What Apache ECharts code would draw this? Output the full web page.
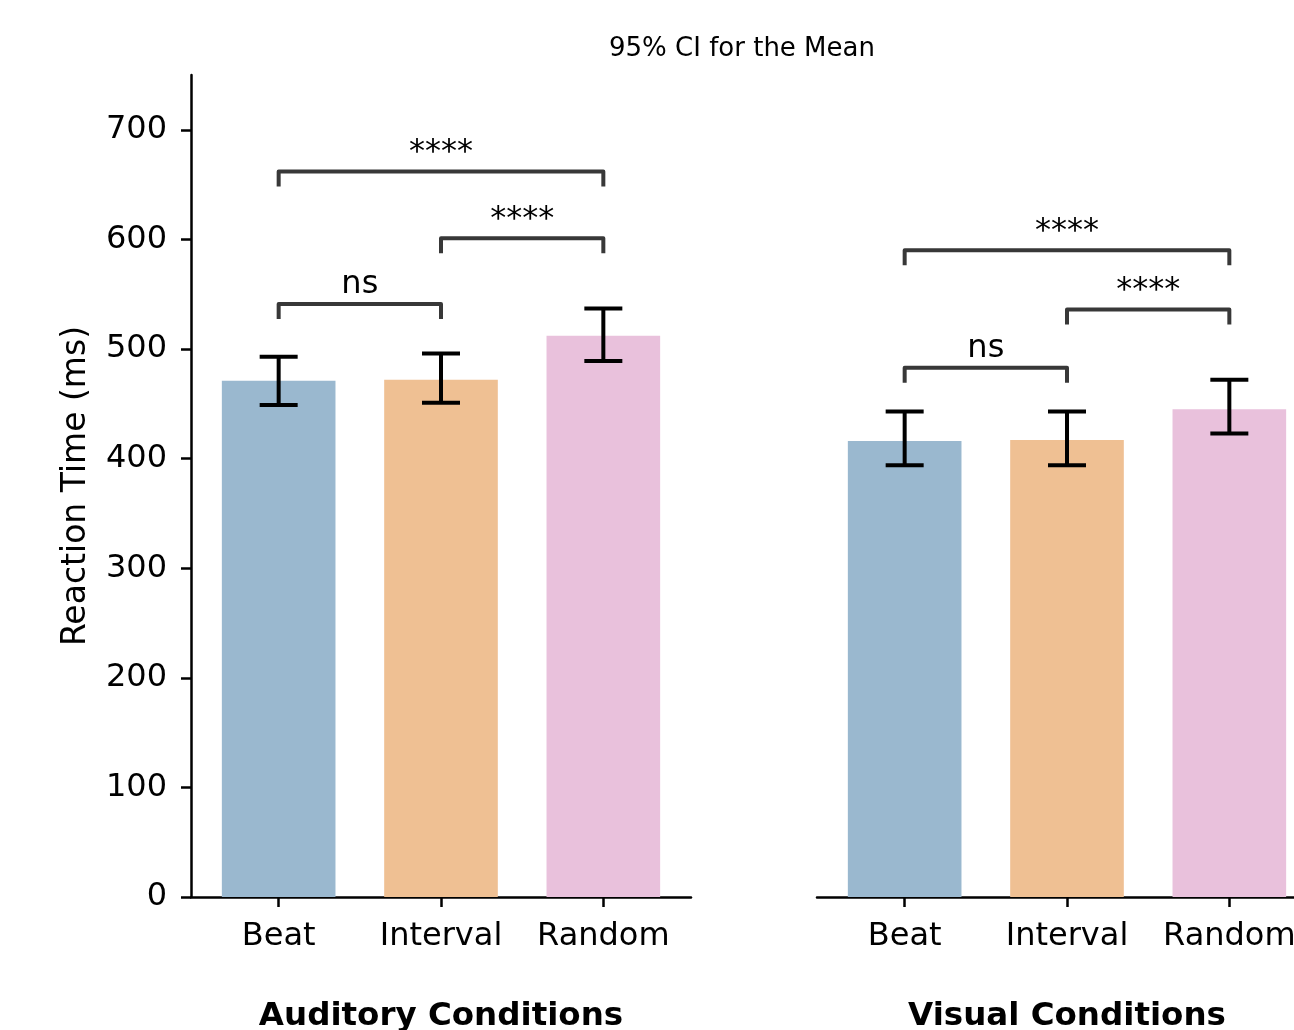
<!DOCTYPE html>
<html>
<head>
<meta charset="utf-8">
<script src="https://cdn.jsdelivr.net/npm/echarts@6/dist/echarts.min.js"></script>
<style>
  html, body { margin: 0; padding: 0; background: #fff; }
  #chart { width: 1294px; height: 1030px; }
</style>
</head>
<body>
<div id="chart"></div>
<script>
const categories = ['Beat', 'Interval', 'Random'];

// auditory: mean + 95% CI
const audMean = [471, 472, 512];
const audLow = [449, 451, 489];
const audHigh = [493, 496, 537];

// visual: mean + 95% CI
const visMean = [416, 417, 445];
const visLow = [394, 394, 423];
const visHigh = [443, 443, 472];

// significance brackets: [from, to, height]
const audPairs = [[0, 1, 541], [1, 2, 601], [0, 2, 662]];
const audStars = ['ns', '****', '****'];
const visPairs = [[0, 1, 483], [1, 2, 536], [0, 2, 590]];
const visStars = ['ns', '****', '****'];

const yTicks = [0, 100, 200, 300, 400, 500, 600, 700];

const barColors = ['#9ab8cf', '#efc093', '#e9c1dc'];
const font = 'DejaVu Sans';

const chart = echarts.init(document.getElementById('chart'));

function renderBar(params, api) {
  const i = api.value(0);
  const top = api.coord([i, api.value(1)]);
  const base = api.coord([i, 0]);
  const w = api.size([0.7, 0])[0];
  return {
    type: 'rect',
    shape: { x: top[0] - w / 2, y: top[1], width: w, height: base[1] - top[1] },
    style: { fill: barColors[i] },
  };
}

function renderErr(params, api) {
  const i = api.value(0);
  const lo = api.coord([i, api.value(1)]);
  const hi = api.coord([i, api.value(2)]);
  const cap = 19;
  const st = { stroke: '#000', lineWidth: 4 };
  return {
    type: 'group',
    children: [
      { type: 'line', shape: { x1: lo[0], y1: lo[1], x2: hi[0], y2: hi[1] }, style: st },
      { type: 'line', shape: { x1: lo[0] - cap, y1: lo[1], x2: lo[0] + cap, y2: lo[1] }, style: st },
      { type: 'line', shape: { x1: hi[0] - cap, y1: hi[1], x2: hi[0] + cap, y2: hi[1] }, style: st },
    ],
  };
}

function bracketRenderer(labels) {
  return function (params, api) {
    const a = api.coord([api.value(0), api.value(2)]);
    const b = api.coord([api.value(1), api.value(2)]);
    const drop = 15;
    return {
      type: 'group',
      children: [
        {
          type: 'polyline',
          shape: { points: [[a[0], a[1] + drop], [a[0], a[1]], [b[0], b[1]], [b[0], b[1] + drop]] },
          style: { stroke: '#383838', lineWidth: 4, fill: null, lineJoin: 'round' },
        },
        {
          type: 'text',
          x: (a[0] + b[0]) / 2,
          y: a[1] - 3,
          style: {
            text: labels[params.dataIndex],
            fontSize: 32,
            fontFamily: font,
            fill: '#000',
            align: 'center',
            verticalAlign: 'bottom',
          },
        },
      ],
    };
  };
}

function xAxisFor(gridIndex, name) {
  return {
    type: 'value',
    gridIndex: gridIndex,
    min: -0.54,
    max: 2.54,
    splitLine: { show: false },
    axisLine: { onZero: false, lineStyle: { color: '#000', width: 2.5 } },
    axisTick: { customValues: [0, 1, 2], length: 10, lineStyle: { color: '#000', width: 2.5 } },
    axisLabel: {
      customValues: [0, 1, 2],
      formatter: v => categories[v],
      fontSize: 32,
      fontFamily: font,
      color: '#000',
      margin: 24,
    },
    name: name,
    nameLocation: 'middle',
    nameGap: 103,
    nameTextStyle: { fontSize: 32.5, fontWeight: 'bold', fontFamily: font, color: '#000' },
  };
}

const option = {
  animation: false,
  backgroundColor: '#fff',
  textStyle: { fontFamily: font },
  title: {
    text: '95% CI for the Mean',
    left: 737,
    top: 31,
    textAlign: 'center',
    textStyle: { fontSize: 26, fontWeight: 'normal', color: '#000', fontFamily: font },
  },
  grid: [
    { left: 191, top: 75, width: 500, height: 822, outerBoundsMode: 'none', containLabel: false },
    { left: 817, top: 75, width: 500, height: 822, outerBoundsMode: 'none', containLabel: false },
  ],
  xAxis: [xAxisFor(0, 'Auditory Conditions'), xAxisFor(1, 'Visual Conditions')],
  yAxis: [
    {
      type: 'value',
      gridIndex: 0,
      min: 0,
      max: 750,
      splitLine: { show: false },
      axisLine: { show: true, onZero: false, lineStyle: { color: '#000', width: 2.5 } },
      axisTick: { show: true, customValues: yTicks, length: 10, lineStyle: { color: '#000', width: 2.5 } },
      axisLabel: { customValues: yTicks, fontSize: 32, fontFamily: font, color: '#000', margin: 24 },
      name: 'Reaction Time (ms)',
      nameLocation: 'middle',
      nameGap: 98,
      nameTextStyle: { fontSize: 33, fontFamily: font, color: '#000' },
    },
    { type: 'value', gridIndex: 1, min: 0, max: 750, show: false },
  ],
  series: [
    {
      type: 'custom', xAxisIndex: 0, yAxisIndex: 0, renderItem: renderBar, z: 1,
      data: audMean.map((v, i) => [i, v]),
    },
    {
      type: 'custom', xAxisIndex: 0, yAxisIndex: 0, renderItem: renderErr, z: 3,
      data: audMean.map((v, i) => [i, audLow[i], audHigh[i]]),
    },
    {
      type: 'custom', xAxisIndex: 0, yAxisIndex: 0, renderItem: bracketRenderer(audStars), z: 3,
      data: audPairs,
    },
    {
      type: 'custom', xAxisIndex: 1, yAxisIndex: 1, renderItem: renderBar, z: 1,
      data: visMean.map((v, i) => [i, v]),
    },
    {
      type: 'custom', xAxisIndex: 1, yAxisIndex: 1, renderItem: renderErr, z: 3,
      data: visMean.map((v, i) => [i, visLow[i], visHigh[i]]),
    },
    {
      type: 'custom', xAxisIndex: 1, yAxisIndex: 1, renderItem: bracketRenderer(visStars), z: 3,
      data: visPairs,
    },
  ],
};

chart.setOption(option);
</script>
</body>
</html>
